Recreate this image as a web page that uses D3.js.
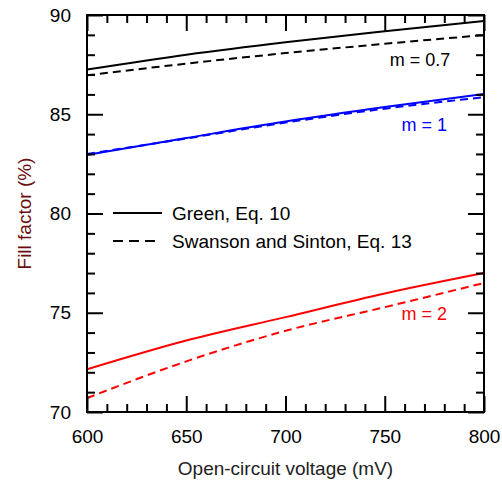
<!DOCTYPE html>
<html>
<head>
<meta charset="utf-8">
<script src="https://cdn.jsdelivr.net/npm/d3@7"></script>
<style>
  body { margin: 0; background: #fff; }
  #chart { position: relative; width: 502px; height: 484px; }
  #chart svg { position: absolute; left: 0; top: 0; }
  svg text { font-family: "Liberation Sans", Arial, sans-serif; }
</style>
</head>
<body>
<div id="chart"></div>
<script>
// Values (Voc in mV, FF in %)
var voltages = [600, 650, 700, 750, 800];
var greenM07 = [87.25, 88.0, 88.63, 89.18, 89.70];
var swansonM07 = [86.96, 87.55, 88.08, 88.55, 88.99];
var greenM1 = [82.95, 83.8, 84.63, 85.36, 86.02];
var swansonM1 = [83.0, 83.78, 84.58, 85.28, 85.86];
var greenM2 = [72.15, 73.6, 74.78, 75.97, 77.0];
var swansonM2 = [70.7, 72.55, 74.09, 75.28, 76.5];

var xTicks = [600, 650, 700, 750, 800];
var yTicks = [70, 75, 80, 85, 90];

var svgWidth = 502;
var svgHeight = 484;
var margin = { top: 15, right: 18, bottom: 72, left: 87 };
var width = svgWidth - margin.left - margin.right;
var height = svgHeight - margin.top - margin.bottom;

var svg = d3.select("#chart").append("svg")
  .attr("width", svgWidth)
  .attr("height", svgHeight);

var chartGroup = svg.append("g")
  .attr("transform", `translate(${margin.left}, ${margin.top})`);

var x = d3.scaleLinear().domain([600, 800]).range([0, width]);
var y = d3.scaleLinear().domain([70, 90]).range([height, 0]);

var minorX = d3.range(600, 801, 10);
var minorY = d3.range(70, 91, 1);

// tick labels from the axis generators
function styleLabels(g) {
  g.select(".domain").remove();
  g.selectAll(".tick line").remove();
  g.selectAll("text").attr("fill", "#000").style("font-size", "19px");
}

chartGroup.append("g").attr("transform", `translate(0, ${height})`)
  .call(d3.axisBottom(x).tickValues(xTicks).tickSize(0).tickPadding(18)).call(styleLabels);
chartGroup.append("g")
  .call(d3.axisLeft(y).tickValues(yTicks).tickSize(0).tickPadding(16)).call(styleLabels);

// curves
var series = [
  { vals: greenM07, color: "#000", dash: null },
  { vals: swansonM07, color: "#000", dash: "8,5" },
  { vals: greenM1, color: "#0000ff", dash: null },
  { vals: swansonM1, color: "#0000ff", dash: "8,5" },
  { vals: greenM2, color: "#ff0000", dash: null },
  { vals: swansonM2, color: "#ff0000", dash: "8,5" }
];

var line = d3.line()
  .x((d, i) => x(voltages[i]))
  .y(d => y(d))
  .curve(d3.curveMonotoneX);

chartGroup.append("defs").append("clipPath").attr("id", "plotclip")
  .append("rect").attr("width", width).attr("height", height);

chartGroup.append("g").attr("clip-path", "url(#plotclip)")
  .selectAll("path")
  .data(series)
  .enter()
  .append("path")
  .attr("d", d => line(d.vals))
  .attr("fill", "none")
  .attr("stroke", d => d.color)
  .attr("stroke-width", 2)
  .attr("stroke-dasharray", d => d.dash);

// curve labels
var curveLabels = [
  { text: "m = 0.7", v: 752.5, ff: 87.43, color: "#000" },
  { text: "m = 1", v: 758.5, ff: 84.16, color: "#0000ff" },
  { text: "m = 2", v: 758.5, ff: 74.64, color: "#ff0000" }
];
chartGroup.append("g").selectAll("text")
  .data(curveLabels)
  .enter()
  .append("text")
  .attr("x", d => x(d.v))
  .attr("y", d => y(d.ff))
  .attr("fill", d => d.color)
  .style("font-size", "18px")
  .text(d => d.text);

// legend
var legend = chartGroup.append("g").attr("transform", "translate(26, 198)");
legend.append("line").attr("x1", 0).attr("x2", 49).attr("y1", 0).attr("y2", 0)
  .attr("stroke", "#000").attr("stroke-width", 2);
legend.append("text").attr("x", 59).attr("y", 7).style("font-size", "19px").text("Green, Eq. 10");
legend.append("line").attr("x1", 0).attr("x2", 44).attr("y1", 28).attr("y2", 28)
  .attr("stroke", "#000").attr("stroke-width", 2).attr("stroke-dasharray", "10,6");
legend.append("text").attr("x", 59).attr("y", 35).style("font-size", "19px").text("Swanson and Sinton, Eq. 13");

// axis titles
chartGroup.append("text")
  .attr("transform", `translate(${width / 2}, ${height + 63})`)
  .attr("text-anchor", "middle")
  .attr("fill", "#222")
  .style("font-size", "19px")
  .text("Open-circuit voltage (mV)");

chartGroup.append("text")
  .attr("transform", `translate(${-margin.left + 31}, ${height / 2}) rotate(-90)`)
  .attr("text-anchor", "middle")
  .attr("fill", "#6a0d0d")
  .style("font-size", "19px")
  .text("Fill factor (%)");

// frame and inward ticks in a second svg laid over the first
var overlay = d3.select("#chart").append("svg")
  .attr("width", svgWidth)
  .attr("height", svgHeight);
var frameGroup = overlay.append("g")
  .attr("transform", `translate(${margin.left}, ${margin.top})`);

function styleTicks(g) {
  g.select(".domain").remove();
  g.selectAll(".tick text").remove();
  g.selectAll(".tick line").attr("stroke", "#000").attr("stroke-width", 2);
}

var minorOnlyX = minorX.filter(v => xTicks.indexOf(v) < 0);
var minorOnlyY = minorY.filter(v => yTicks.indexOf(v) < 0);

[[minorOnlyX, 8], [xTicks, 16]].forEach(function(p) {
  frameGroup.append("g").attr("transform", `translate(0, ${height})`)
    .call(d3.axisBottom(x).tickValues(p[0]).tickSize(-p[1])).call(styleTicks);
  frameGroup.append("g")
    .call(d3.axisTop(x).tickValues(p[0]).tickSize(-p[1])).call(styleTicks);
});
[[minorOnlyY, 8], [yTicks, 16]].forEach(function(p) {
  frameGroup.append("g")
    .call(d3.axisLeft(y).tickValues(p[0]).tickSize(-p[1])).call(styleTicks);
  frameGroup.append("g").attr("transform", `translate(${width}, 0)`)
    .call(d3.axisRight(y).tickValues(p[0]).tickSize(-p[1])).call(styleTicks);
});

frameGroup.append("rect")
  .attr("width", width)
  .attr("height", height)
  .attr("fill", "none")
  .attr("stroke", "#000")
  .attr("stroke-width", 2);
</script>
</body>
</html>
